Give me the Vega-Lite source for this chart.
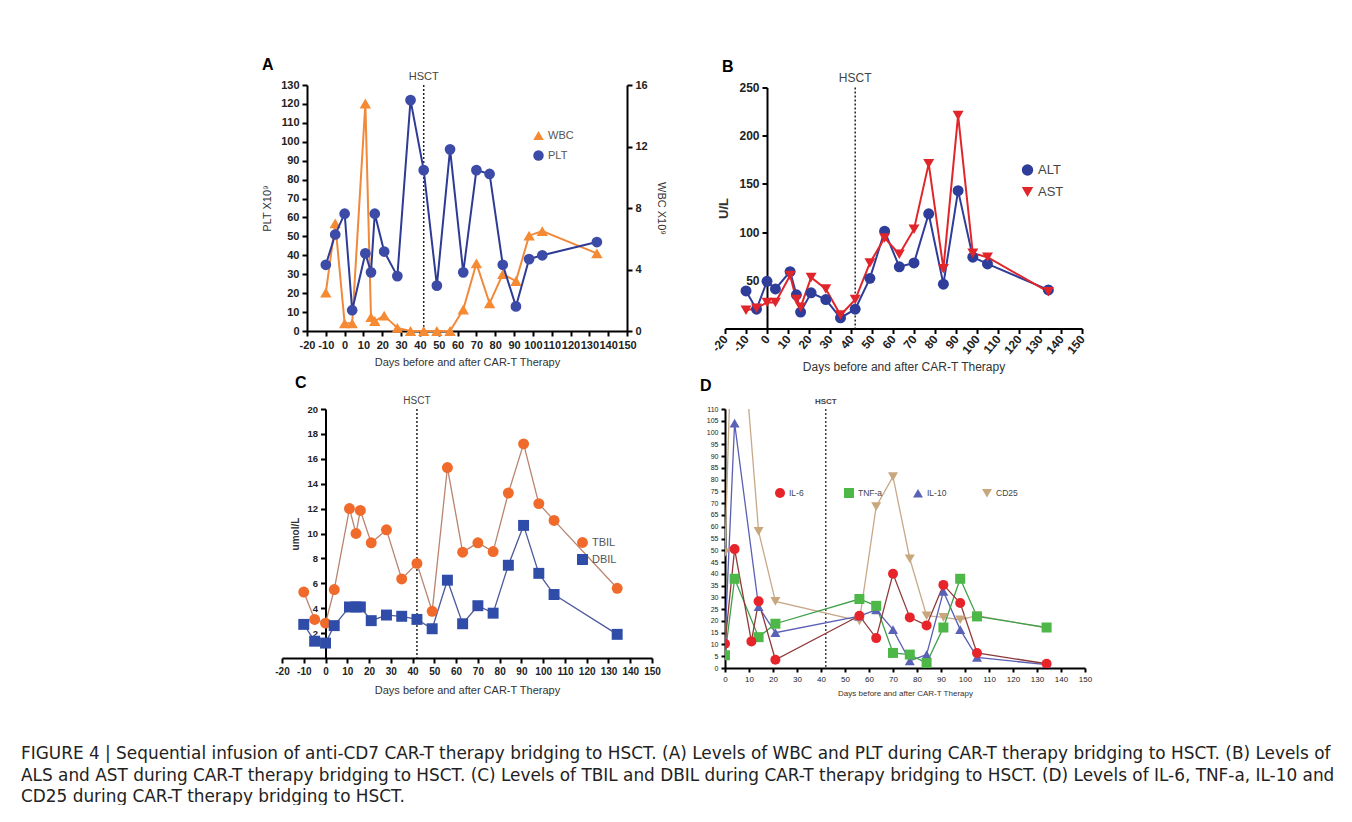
{
"$schema":"https://vega.github.io/schema/vega-lite/v6.json",
"background":"white",
"padding":{"left":21,"top":57,"right":0,"bottom":0},
"autosize":{"type":"pad"},
"bounds":"flush",
"columns":2,
"center":true,
"spacing":{"row":78,"column":73},
"resolve":{"scale":{"color":"independent","shape":"independent","stroke":"independent"},"legend":{"color":"independent","shape":"independent"}},
"title":{"text":["FIGURE 4 | Sequential infusion of anti-CD7 CAR-T therapy bridging to HSCT. (A) Levels of WBC and PLT during CAR-T therapy bridging to HSCT. (B) Levels of","ALS and AST during CAR-T therapy bridging to HSCT. (C) Levels of TBIL and DBIL during CAR-T therapy bridging to HSCT. (D) Levels of IL-6, TNF-a, IL-10 and","CD25 during CAR-T therapy bridging to HSCT."],"orient":"bottom","anchor":"start","frame":"group","dx":-261,"offset":49,"font":"DejaVu Sans","fontSize":16.9,"fontWeight":"normal","lineHeight":21.5,"color":"#222"},
"datasets":{
"A":[
{"s":"PLT","d":-10,"v":35},{"s":"PLT","d":-5,"v":51},{"s":"PLT","d":0,"v":62},{"s":"PLT","d":4,"v":11},{"s":"PLT","d":11,"v":41},{"s":"PLT","d":14,"v":31},{"s":"PLT","d":16,"v":62},{"s":"PLT","d":21,"v":42},{"s":"PLT","d":28,"v":29},{"s":"PLT","d":35,"v":122},{"s":"PLT","d":42,"v":85},{"s":"PLT","d":49,"v":24},{"s":"PLT","d":56,"v":96},{"s":"PLT","d":63,"v":31},{"s":"PLT","d":70,"v":85},{"s":"PLT","d":77,"v":83},{"s":"PLT","d":84,"v":35},{"s":"PLT","d":91,"v":13},{"s":"PLT","d":98,"v":38},{"s":"PLT","d":105,"v":40},{"s":"PLT","d":134,"v":47},
{"s":"WBC","d":-10,"v":2.5},{"s":"WBC","d":-5,"v":7.0},{"s":"WBC","d":0,"v":0.5},{"s":"WBC","d":4,"v":0.5},{"s":"WBC","d":11,"v":14.8},{"s":"WBC","d":14,"v":0.9},{"s":"WBC","d":16,"v":0.65},{"s":"WBC","d":21,"v":1.0},{"s":"WBC","d":28,"v":0.2},{"s":"WBC","d":35,"v":0},{"s":"WBC","d":42,"v":0},{"s":"WBC","d":49,"v":0},{"s":"WBC","d":56,"v":0},{"s":"WBC","d":63,"v":1.4},{"s":"WBC","d":70,"v":4.4},{"s":"WBC","d":77,"v":1.8},{"s":"WBC","d":84,"v":3.7},{"s":"WBC","d":91,"v":3.25},{"s":"WBC","d":98,"v":6.2},{"s":"WBC","d":105,"v":6.5},{"s":"WBC","d":134,"v":5.05}],
"B":[
{"s":"ALT","d":-10,"v":39},{"s":"ALT","d":-5,"v":20},{"s":"ALT","d":0,"v":49},{"s":"ALT","d":4,"v":41},{"s":"ALT","d":11,"v":59},{"s":"ALT","d":14,"v":35},{"s":"ALT","d":16,"v":17},{"s":"ALT","d":21,"v":37},{"s":"ALT","d":28,"v":30},{"s":"ALT","d":35,"v":11},{"s":"ALT","d":42,"v":20},{"s":"ALT","d":49,"v":52},{"s":"ALT","d":56,"v":101},{"s":"ALT","d":63,"v":64},{"s":"ALT","d":70,"v":68},{"s":"ALT","d":77,"v":119},{"s":"ALT","d":84,"v":46},{"s":"ALT","d":91,"v":143},{"s":"ALT","d":98,"v":74},{"s":"ALT","d":105,"v":67},{"s":"ALT","d":134,"v":40},
{"s":"AST","d":-10,"v":19},{"s":"AST","d":-5,"v":21},{"s":"AST","d":0,"v":27},{"s":"AST","d":4,"v":27},{"s":"AST","d":11,"v":55},{"s":"AST","d":14,"v":30},{"s":"AST","d":16,"v":22},{"s":"AST","d":21,"v":53},{"s":"AST","d":28,"v":41},{"s":"AST","d":35,"v":14},{"s":"AST","d":42,"v":30},{"s":"AST","d":49,"v":68},{"s":"AST","d":56,"v":94},{"s":"AST","d":63,"v":77},{"s":"AST","d":70,"v":103},{"s":"AST","d":77,"v":171},{"s":"AST","d":84,"v":62},{"s":"AST","d":91,"v":221},{"s":"AST","d":98,"v":78},{"s":"AST","d":105,"v":74},{"s":"AST","d":134,"v":38}],
"C":[
{"s":"TBIL","d":-10,"v":5.3},{"s":"TBIL","d":-5,"v":3.1},{"s":"TBIL","d":0,"v":2.8},{"s":"TBIL","d":4,"v":5.5},{"s":"TBIL","d":11,"v":12.0},{"s":"TBIL","d":14,"v":10.0},{"s":"TBIL","d":16,"v":11.85},{"s":"TBIL","d":21,"v":9.25},{"s":"TBIL","d":28,"v":10.3},{"s":"TBIL","d":35,"v":6.35},{"s":"TBIL","d":42,"v":7.6},{"s":"TBIL","d":49,"v":3.75},{"s":"TBIL","d":56,"v":15.3},{"s":"TBIL","d":63,"v":8.5},{"s":"TBIL","d":70,"v":9.25},{"s":"TBIL","d":77,"v":8.55},{"s":"TBIL","d":84,"v":13.25},{"s":"TBIL","d":91,"v":17.2},{"s":"TBIL","d":98,"v":12.4},{"s":"TBIL","d":105,"v":11.05},{"s":"TBIL","d":134,"v":5.6},
{"s":"DBIL","d":-10,"v":2.7},{"s":"DBIL","d":-5,"v":1.35},{"s":"DBIL","d":0,"v":1.2},{"s":"DBIL","d":4,"v":2.6},{"s":"DBIL","d":11,"v":4.1},{"s":"DBIL","d":14,"v":4.1},{"s":"DBIL","d":16,"v":4.1},{"s":"DBIL","d":21,"v":3.0},{"s":"DBIL","d":28,"v":3.45},{"s":"DBIL","d":35,"v":3.35},{"s":"DBIL","d":42,"v":3.1},{"s":"DBIL","d":49,"v":2.35},{"s":"DBIL","d":56,"v":6.25},{"s":"DBIL","d":63,"v":2.75},{"s":"DBIL","d":70,"v":4.2},{"s":"DBIL","d":77,"v":3.6},{"s":"DBIL","d":84,"v":7.45},{"s":"DBIL","d":91,"v":10.65},{"s":"DBIL","d":98,"v":6.8},{"s":"DBIL","d":105,"v":5.1},{"s":"DBIL","d":134,"v":1.9}],
"D":[
{"s":"CD25","d":0,"v":49},{"s":"CD25","d":4,"v":185},{"s":"CD25","d":14,"v":58},{"s":"CD25","d":21,"v":28.3},{"s":"CD25","d":56,"v":20},{"s":"CD25","d":63,"v":68.6},{"s":"CD25","d":70,"v":81.3},{"s":"CD25","d":77,"v":46.4},{"s":"CD25","d":84,"v":22.2},{"s":"CD25","d":91,"v":21.5},{"s":"CD25","d":98,"v":20.5},{"s":"CD25","d":105,"v":22.2},{"s":"CD25","d":134,"v":17},
{"s":"IL-10","d":0,"v":12},{"s":"IL-10","d":4,"v":104},{"s":"IL-10","d":14,"v":26},{"s":"IL-10","d":21,"v":15},{"s":"IL-10","d":56,"v":22},{"s":"IL-10","d":63,"v":24.7},{"s":"IL-10","d":70,"v":16.3},{"s":"IL-10","d":77,"v":3},{"s":"IL-10","d":84,"v":5.7},{"s":"IL-10","d":91,"v":32.5},{"s":"IL-10","d":98,"v":16.3},{"s":"IL-10","d":105,"v":4.5},{"s":"IL-10","d":134,"v":1.4},
{"s":"TNF-a","d":0,"v":5.4},{"s":"TNF-a","d":4,"v":37.9},{"s":"TNF-a","d":14,"v":13.1},{"s":"TNF-a","d":21,"v":18.8},{"s":"TNF-a","d":56,"v":29.3},{"s":"TNF-a","d":63,"v":26.4},{"s":"TNF-a","d":70,"v":6.4},{"s":"TNF-a","d":77,"v":5.7},{"s":"TNF-a","d":84,"v":2.1},{"s":"TNF-a","d":91,"v":17.2},{"s":"TNF-a","d":98,"v":37.9},{"s":"TNF-a","d":105,"v":21.9},{"s":"TNF-a","d":134,"v":17.2},
{"s":"IL-6","d":0,"v":10.3},{"s":"IL-6","d":4,"v":50.5},{"s":"IL-6","d":11,"v":11.3},{"s":"IL-6","d":14,"v":28.3},{"s":"IL-6","d":21,"v":3.5},{"s":"IL-6","d":56,"v":22.2},{"s":"IL-6","d":63,"v":12.7},{"s":"IL-6","d":70,"v":40},{"s":"IL-6","d":77,"v":21.5},{"s":"IL-6","d":84,"v":18.1},{"s":"IL-6","d":91,"v":35.3},{"s":"IL-6","d":98,"v":27.6},{"s":"IL-6","d":105,"v":6.4},{"s":"IL-6","d":134,"v":1.8}],
"HA":[{"d":42,"t":"HSCT","v":130}],
"HB":[{"d":42,"t":"HSCT","v":250}],
"HC":[{"d":42,"t":"HSCT","v":20}],
"HD":[{"d":42,"t":"HSCT","v":110}]
},
"concat":[
{
"width":320,"height":246,
"title":{"text":"A","anchor":"start","frame":"group","dx":-45,"offset":-2,"fontSize":16,"fontWeight":"bold","color":"#000"},
"encoding":{"x":{"field":"d","type":"quantitative","scale":{"domain":[-20,150],"nice":false,"zero":false},"axis":{"values":[-20,-10,0,10,20,30,40,50,60,70,80,90,100,110,120,130,140,150],"labelExpr":"replace(datum.label,'−','-')","labelFontSize":11,"labelFontWeight":"bold","title":"Days before and after CAR-T Therapy","titleFontSize":11,"titleFontWeight":"normal","titlePadding":6}}},
"layer":[
{"data":{"name":"HA"},"mark":{"type":"rule","strokeDash":[2,2],"strokeWidth":1.5,"color":"#222"},"encoding":{}},
{"data":{"name":"HA"},"mark":{"type":"text","baseline":"bottom","dy":-3,"fontSize":11,"color":"#444"},"encoding":{"y":{"field":"v","type":"quantitative","scale":{"domain":[0,130]},"axis":null},"text":{"field":"t"}}},
{"data":{"name":"A"},"transform":[{"filter":"datum.s==='WBC'"}],
"encoding":{"y":{"field":"v","type":"quantitative","scale":{"domain":[0,16],"nice":false},"axis":{"orient":"right","values":[0,4,8,12,16],"labelFontSize":11,"labelFontWeight":"bold","title":"WBC X10⁹","titleFontSize":11,"titleFontWeight":"normal","titlePadding":8}}},
"layer":[
{"mark":{"type":"line","strokeWidth":2},"encoding":{"stroke":{"field":"s","type":"nominal","scale":{"domain":["PLT","WBC"],"range":["#2E3B94","#F0893A"]},"legend":null}}},
{"mark":{"type":"point","filled":true,"opacity":1,"size":130},"encoding":{"color":{"field":"s","type":"nominal","scale":{"domain":["WBC","PLT"],"range":["#F58A33","#3D4BA8"]},"legend":{"title":null,"orient":"none","legendX":226,"legendY":45,"labelFontSize":11,"labelColor":"#555","rowPadding":8,"symbolSize":110}},"shape":{"field":"s","type":"nominal","scale":{"domain":["WBC","PLT"],"range":["triangle-up","circle"]},"legend":{"title":null,"orient":"none","legendX":226,"legendY":45,"labelFontSize":11,"labelColor":"#555","rowPadding":8,"symbolSize":110}}}}
]},
{"data":{"name":"A"},"transform":[{"filter":"datum.s==='PLT'"}],
"encoding":{"y":{"field":"v","type":"quantitative","scale":{"domain":[0,130],"nice":false},"axis":{"orient":"left","values":[0,10,20,30,40,50,60,70,80,90,100,110,120,130],"labelFontSize":11,"labelFontWeight":"bold","title":"PLT X10⁹","titleFontSize":11,"titleFontWeight":"normal","titlePadding":8}}},
"layer":[
{"mark":{"type":"line","strokeWidth":2},"encoding":{"stroke":{"field":"s","type":"nominal","scale":{"domain":["PLT","WBC"],"range":["#2E3B94","#F0893A"]},"legend":null}}},
{"mark":{"type":"point","filled":true,"opacity":1,"size":115},"encoding":{"color":{"field":"s","type":"nominal","scale":{"domain":["WBC","PLT"],"range":["#F58A33","#3D4BA8"]},"legend":{"title":null,"orient":"none","legendX":226,"legendY":45,"labelFontSize":11,"labelColor":"#555","rowPadding":8,"symbolSize":110}},"shape":{"field":"s","type":"nominal","scale":{"domain":["WBC","PLT"],"range":["triangle-up","circle"]},"legend":{"title":null,"orient":"none","legendX":226,"legendY":45,"labelFontSize":11,"labelColor":"#555","rowPadding":8,"symbolSize":110}}}}
]}
],
"resolve":{"scale":{"y":"independent"}}
},
{
"width":357,"height":241,
"title":{"text":"B","anchor":"start","frame":"group","dx":-3,"offset":-3,"fontSize":16,"fontWeight":"bold","color":"#000"},
"encoding":{"x":{"field":"d","type":"quantitative","scale":{"domain":[-20,150],"nice":false,"zero":false},"axis":{"values":[-20,-10,0,10,20,30,40,50,60,70,80,90,100,110,120,130,140,150],"labelExpr":"replace(datum.label,'−','-')","labelFontSize":12,"labelFontWeight":"bold","labelAngle":-50,"labelAlign":"right","labelBaseline":"middle","title":"Days before and after CAR-T Therapy","titleFontSize":12,"titleFontWeight":"normal","titlePadding":6}},
"y":{"field":"v","type":"quantitative","scale":{"domain":[0,250],"nice":false},"axis":{"offset":-42,"values":[50,100,150,200,250],"labelFontSize":12,"labelFontWeight":"bold","title":"U/L","titleFontSize":13,"titleFontWeight":"bold","titlePadding":8}}},
"layer":[
{"data":{"name":"HB"},"mark":{"type":"rule","strokeDash":[2,2],"strokeWidth":1.5,"color":"#222"},"encoding":{"y":null}},
{"data":{"name":"HB"},"mark":{"type":"text","baseline":"bottom","dy":-3,"fontSize":12,"color":"#444"},"encoding":{"text":{"field":"t"}}},
{"data":{"name":"B"},"mark":{"type":"line","strokeWidth":2},"encoding":{"stroke":{"field":"s","type":"nominal","scale":{"domain":["AST","ALT"],"range":["#E0262B","#2E3D99"]},"legend":null}}},
{"data":{"name":"B"},"mark":{"type":"point","filled":true,"opacity":1,"size":120},"encoding":{"color":{"field":"s","type":"nominal","scale":{"domain":["ALT","AST"],"range":["#2E3D99","#E0262B"]},"legend":{"title":null,"orient":"none","legendX":296,"legendY":76,"labelFontSize":13,"labelColor":"#444","rowPadding":8,"symbolSize":130}},"shape":{"field":"s","type":"nominal","scale":{"domain":["ALT","AST"],"range":["circle","triangle-down"]},"legend":{"title":null,"orient":"none","legendX":296,"legendY":76,"labelFontSize":13,"labelColor":"#444","rowPadding":8,"symbolSize":130}}}}
]
},
{
"width":370,"height":249,
"title":{"text":"C","anchor":"start","frame":"group","dx":13,"offset":5,"fontSize":16,"fontWeight":"bold","color":"#000"},
"encoding":{"x":{"field":"d","type":"quantitative","scale":{"domain":[-20,150],"nice":false,"zero":false},"axis":{"values":[-20,-10,0,10,20,30,40,50,60,70,80,90,100,110,120,130,140,150],"labelExpr":"replace(datum.label,'−','-')","labelFontSize":10,"labelFontWeight":"bold","title":"Days before and after CAR-T Therapy","titleFontSize":11,"titleFontWeight":"normal","titlePadding":8}},
"y":{"field":"v","type":"quantitative","scale":{"domain":[0,20],"nice":false},"axis":{"offset":-43.5,"values":[2,4,6,8,10,12,14,16,18,20],"labelFontSize":9.5,"labelFontWeight":"bold","title":"umol/L","titleFontSize":10,"titleFontWeight":"bold","titlePadding":6}}},
"layer":[
{"data":{"name":"HC"},"mark":{"type":"rule","strokeDash":[2,2],"strokeWidth":1.5,"color":"#222"},"encoding":{"y":null}},
{"data":{"name":"HC"},"mark":{"type":"text","baseline":"bottom","dy":-3,"fontSize":10,"color":"#444"},"encoding":{"text":{"field":"t"}}},
{"data":{"name":"C"},"mark":{"type":"line","strokeWidth":1.3},"encoding":{"stroke":{"field":"s","type":"nominal","scale":{"domain":["DBIL","TBIL"],"range":["#4D5A9C","#B98470"]},"legend":null}}},
{"data":{"name":"C"},"mark":{"type":"point","filled":true,"opacity":1,"size":120},"encoding":{"color":{"field":"s","type":"nominal","scale":{"domain":["TBIL","DBIL"],"range":["#F06B2B","#2F4DA8"]},"legend":{"title":null,"orient":"none","legendX":295,"legendY":128,"labelFontSize":11,"labelColor":"#555","rowPadding":5,"symbolSize":120}},"shape":{"field":"s","type":"nominal","scale":{"domain":["TBIL","DBIL"],"range":["circle","square"]},"legend":{"title":null,"orient":"none","legendX":295,"legendY":128,"labelFontSize":11,"labelColor":"#555","rowPadding":5,"symbolSize":120}}}}
]
},
{
"width":360,"height":259,
"title":{"text":"D","anchor":"start","frame":"group","dx":-25,"offset":4,"fontSize":16,"fontWeight":"bold","color":"#000"},
"encoding":{"x":{"field":"d","type":"quantitative","scale":{"domain":[0,150],"nice":false},"axis":{"values":[0,10,20,30,40,50,60,70,80,90,100,110,120,130,140,150],"labelFontSize":8,"labelFontWeight":"normal","tickSize":4,"title":"Days before and after CAR-T Therapy","titleFontSize":8,"titleFontWeight":"normal","titlePadding":6}},
"y":{"field":"v","type":"quantitative","scale":{"domain":[0,110],"nice":false},"axis":{"values":[0,5,10,15,20,25,30,35,40,45,50,55,60,65,70,75,80,85,90,95,100,105,110],"labelFontSize":7,"tickSize":4,"title":null}}},
"layer":[
{"data":{"name":"HD"},"mark":{"type":"rule","strokeDash":[2,2],"strokeWidth":1.3,"color":"#222"},"encoding":{"y":null}},
{"data":{"name":"HD"},"mark":{"type":"text","baseline":"bottom","dy":-3,"fontSize":8,"fontWeight":"bold","color":"#444"},"encoding":{"text":{"field":"t"}}},
{"data":{"name":"D"},"mark":{"type":"line","strokeWidth":1.3,"clip":true},"encoding":{"stroke":{"field":"s","type":"nominal","scale":{"domain":["CD25","IL-10","TNF-a","IL-6"],"range":["#C7A98A","#5A5FB3","#3FA04A","#8E3A3A"]},"legend":null}}},
{"data":{"name":"D"},"mark":{"type":"point","filled":true,"opacity":1,"size":100,"clip":true},"encoding":{"color":{"field":"s","type":"nominal","scale":{"domain":["IL-6","TNF-a","IL-10","CD25"],"range":["#E8242B","#4DB848","#5A62B8","#C9A77C"]},"legend":{"title":null,"orient":"none","direction":"horizontal","gridAlign":"all","legendX":50,"legendY":79,"labelFontSize":8.5,"labelColor":"#444","columnPadding":30,"symbolSize":100}},"shape":{"field":"s","type":"nominal","scale":{"domain":["IL-6","TNF-a","IL-10","CD25"],"range":["circle","square","triangle-up","triangle-down"]},"legend":{"title":null,"orient":"none","direction":"horizontal","gridAlign":"all","legendX":50,"legendY":79,"labelFontSize":8.5,"labelColor":"#444","columnPadding":30,"symbolSize":100}}}}
]
}
],
"config":{
"font":"Liberation Sans",
"view":{"stroke":null},
"axis":{"grid":false,"domainColor":"#000","domainWidth":2,"tickColor":"#000","tickWidth":2,"tickSize":5,"labelColor":"#222","titleColor":"#333","labelOverlap":false,"labelFlush":false,"labelPadding":3},
"legend":{"symbolStrokeWidth":0}
}
}
